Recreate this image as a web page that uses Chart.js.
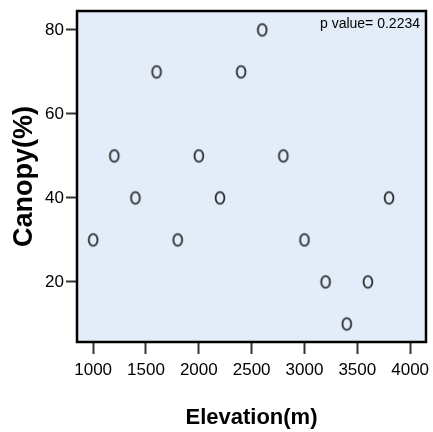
<!DOCTYPE html>
<html>
<head>
<meta charset="utf-8">
<script src="https://cdn.jsdelivr.net/npm/chart.js@4.4.1/dist/chart.umd.min.js"></script>
<style>
  html, body { margin: 0; padding: 0; background: #fff; }
  #wrap { width: 433px; height: 432px; }
</style>
</head>
<body>
<div id="wrap"><canvas id="scatter"></canvas></div>
<script>
// elevation (m) and canopy cover (%) per plot
const elevation = [1000, 1200, 1400, 1600, 1800, 2000, 2200, 2400, 2600, 2800, 3000, 3200, 3400, 3600, 3800];
const canopy = [30, 50, 40, 70, 30, 50, 40, 70, 80, 50, 30, 20, 10, 20, 40];
const xTicks = [1000, 1500, 2000, 2500, 3000, 3500, 4000];
const yTicks = [20, 40, 60, 80];
const pValueText = 'p value= 0.2234';

const FONT = '"Liberation Sans", Arial, sans-serif';

// hollow slightly tall ring used as the marker
function ringMarker() {
  const c = document.createElement('canvas');
  c.width = 14;
  c.height = 17;
  const g = c.getContext('2d');
  g.strokeStyle = '#2b2b2b';
  g.lineWidth = 1.8;
  g.beginPath();
  g.ellipse(7, 8.5, 4.4, 5.9, 0, 0, Math.PI * 2);
  g.stroke();
  return c;
}

// light blue plot area, black frame and the p value note
const framePlugin = {
  id: 'frame',
  beforeDatasetsDraw(chart) {
    const { ctx, chartArea: a } = chart;
    ctx.save();
    ctx.fillStyle = '#e3edfa';
    ctx.fillRect(a.left, a.top, a.right - a.left, a.bottom - a.top);
    ctx.restore();
  },
  afterDraw(chart) {
    const { ctx, chartArea: a } = chart;
    ctx.save();
    ctx.strokeStyle = '#000';
    ctx.lineWidth = 2.5;
    ctx.strokeRect(a.left, a.top, a.right - a.left, a.bottom - a.top);
    ctx.fillStyle = '#000';
    ctx.font = '14px ' + FONT;
    ctx.textAlign = 'right';
    ctx.textBaseline = 'middle';
    ctx.fillText(pValueText, a.right - 6, a.top + 13);
    ctx.restore();
  }
};

// keep the plot box fixed: no extra room for overhanging tick labels
function noOverhang(s) {
  s.paddingLeft = 0;
  s.paddingRight = 0;
  s.paddingTop = 0;
  s.paddingBottom = 0;
}

new Chart(document.getElementById('scatter'), {
  type: 'scatter',
  data: {
    datasets: [{
      data: elevation.map((x, i) => ({ x, y: canopy[i] })),
      pointStyle: ringMarker(),
      pointRadius: 6,
      pointHoverRadius: 6
    }]
  },
  options: {
    responsive: true,
    maintainAspectRatio: false,
    animation: false,
    events: [],
    layout: { padding: { top: 11, right: 5, left: 0, bottom: 0 } },
    plugins: { legend: { display: false }, tooltip: { enabled: false } },
    scales: {
      x: {
        type: 'linear',
        min: 847,
        max: 4150,
        afterBuildTicks: (s) => { s.ticks = xTicks.map(v => ({ value: v })); },
        afterFit: (s) => { s.height = 90; noOverhang(s); },
        border: { display: false },
        grid: { drawOnChartArea: false, drawTicks: true, tickLength: 12, tickWidth: 2, tickColor: '#333' },
        ticks: {
          color: '#000', padding: 6, maxRotation: 0, font: { family: FONT, size: 17 },
          callback: (v) => String(v)
        },
        title: {
          display: true,
          text: 'Elevation(m)',
          color: '#000',
          padding: { top: 0, bottom: 1 },
          font: { family: FONT, size: 22, weight: 'bold' }
        }
      },
      y: {
        type: 'linear',
        min: 5.7,
        max: 84.5,
        afterBuildTicks: (s) => { s.ticks = yTicks.map(v => ({ value: v })); },
        afterFit: (s) => { s.width = 77; noOverhang(s); },
        border: { display: false },
        grid: { drawOnChartArea: false, drawTicks: true, tickLength: 11, tickWidth: 2, tickColor: '#333' },
        ticks: { color: '#000', padding: 2, font: { family: FONT, size: 17 }, callback: (v) => String(v) },
        title: {
          display: true,
          text: 'Canopy(%)',
          color: '#000',
          padding: { top: 8, bottom: 0 },
          font: { family: FONT, size: 27, weight: 'bold' }
        }
      }
    }
  },
  plugins: [framePlugin]
});
</script>
</body>
</html>
